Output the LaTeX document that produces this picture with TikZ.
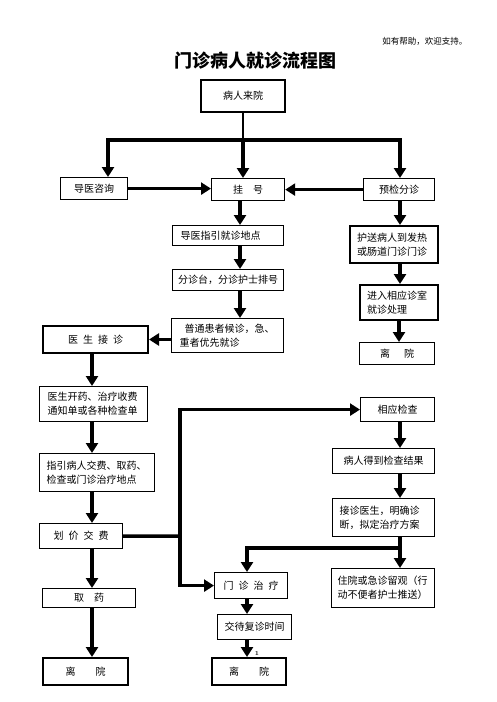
\documentclass[tikz,border=0pt]{standalone}
\usepackage{fontspec}
\newfontfamily\cjk{Noto Sans CJK SC}
\usetikzlibrary{arrows.meta}
\newcommand{\gap}{\hspace{0.5em}}

\begin{document}
\begin{tikzpicture}[x=1pt,y=-1pt,>={Triangle[width=12pt,length=10pt]},
  box/.style={draw,line width=1.2pt,anchor=north west,inner sep=0pt,
    font=\cjk\fontsize{10}{14}\selectfont,align=center},
  boldbox/.style={box,line width=2pt},
  leftbox/.style={align=left,inner xsep=7pt},
  flow/.style={->,line width=3.5pt},
  wire/.style={line width=3.5pt}]
  \useasboundingbox (0,0) rectangle (496,702);

  \node[font=\cjk\fontsize{8.5}{8.5}\selectfont,anchor=east] (note) at (471,41) {如有帮助，欢迎支持。};
  \node[font=\cjk\bfseries\fontsize{18}{18}\selectfont] (title) at (255,61) {门诊病人就诊流程图};

  \node[boldbox,minimum width=84,minimum height=32] (laiyuan) at (200,79) {病人来院};
  \node[box,minimum width=67,minimum height=22] (daoyi)    at (60,177)  {导医咨询};
  \node[box,minimum width=73,minimum height=22] (guahao)   at (211,178) {挂　号};
  \node[box,minimum width=71,minimum height=22] (yujian)   at (363,178) {预检分诊};
  \node[box,leftbox,inner xsep=8pt,text width=95,minimum height=20] (zhiyin) at (172,225) {导医指引就诊地点};
  \node[boldbox,leftbox,text width=74,minimum height=37] (husong) at (349,225) {护送病人到发热\\或肠道门诊门诊};
  \node[box,minimum width=111,minimum height=21] (fenzhen) at (172,269) {分诊台，分诊护士排号};
  \node[boldbox,leftbox,text width=64,minimum height=35] (jinru) at (359,284) {进入相应诊室\\就诊处理};
  \node[box,leftbox,inner xsep=8pt,text width=96,minimum height=34] (putong) at (171,318) {\hspace*{0.5em}普通患者候诊，急、\\重者优先就诊};
  \node[boldbox,minimum width=105,minimum height=27] (jiezhen) at (42,325) {医\gap 生\gap 接\gap 诊};
  \node[box,minimum width=75,minimum height=22] (likai_r)  at (359,342) {离\hspace{1.4em}院};
  \node[box,leftbox,inner xsep=8pt,text width=92,minimum height=35] (kaiyao) at (39,386) {医生开药、治疗收费\\通知单或各种检查单};
  \node[box,minimum width=74,minimum height=24] (jiancha)  at (360,397) {相应检查};
  \node[box,leftbox,text width=101,minimum height=38] (jiaofei) at (39,453) {指引病人交费、取药、\\检查或门诊治疗地点};
  \node[box,minimum width=102,minimum height=25] (jieguo)  at (332,448) {病人得到检查结果};
  \node[box,leftbox,text width=88,minimum height=38] (jiezhenys) at (332,498) {接诊医生，明确诊\\断，拟定治疗方案};
  \node[box,minimum width=83,minimum height=25] (huajia)   at (39,523)  {划\gap 价\gap 交\gap 费};
  \node[box,leftbox,inner xsep=6pt,text width=91,minimum height=39] (zhuyuan) at (331,568) {住院或急诊留观（行\\动不便者护士推送）};
  \node[box,minimum width=73,minimum height=26] (menzhen)  at (214,572) {门\gap 诊\gap 治\gap 疗};
  \node[box,minimum width=93,minimum height=19] (quyao)    at (42,588)  {取　药};
  \node[box,minimum width=74,minimum height=25] (jiaodai)  at (217,614) {交待复诊时间};
  \node[boldbox,minimum width=85,minimum height=27] (likai_l) at (42,657)  {离　　院};
  \node[boldbox,minimum width=74,minimum height=27] (likai_m) at (211,657) {离　　院};
  \node[font=\bfseries\fontsize{6}{6}\selectfont] (pagenum) at (257,654) {1};

  % columns and branch points
  \coordinate (lcol) at (92,0);
  \coordinate (mcol) at (240,0);
  \coordinate (ncol) at (247,0);
  \coordinate (rcol) at (400,0);
  \coordinate (fork) at (243,140);
  \coordinate (lfork) at (108,140);
  \coordinate (rfork) at (400,140);
  \coordinate (bus) at (180,536);
  \coordinate (split) at (400,548);

  \draw[line width=2pt] (laiyuan.south -| fork) -- (fork);
  \draw[flow] (fork) -| (lfork |- daoyi.north);
  \draw[flow] (fork) -| (rfork |- yujian.north);
  \draw[flow] (fork) -- (fork |- guahao.north);
  \draw[flow] (daoyi.east) -- (daoyi.east -| guahao.west);
  \draw[flow] (yujian.west) -- (yujian.west -| guahao.east);

  \draw[flow] (guahao.south -| mcol) -- (zhiyin.north -| mcol);
  \draw[flow] (zhiyin.south -| mcol) -- (fenzhen.north -| mcol);
  \draw[flow] (fenzhen.south -| mcol) -- (putong.north -| mcol);
  \draw[flow] (putong.west |- jiezhen.east) -- (jiezhen.east);

  \draw[flow] (yujian.south -| rcol) -- (husong.north -| rcol);
  \draw[flow] (husong.south -| rcol) -- (jinru.north -| rcol);
  \draw[flow] (jinru.south) -- (jinru.south |- likai_r.north);

  \draw[flow] (jiezhen.south -| lcol) -- (kaiyao.north -| lcol);
  \draw[flow] (kaiyao.south -| lcol) -- (jiaofei.north -| lcol);
  \draw[flow] (jiaofei.south -| lcol) -- (huajia.north -| lcol);
  \draw[flow] (huajia.south -| lcol) -- (quyao.north -| lcol);
  \draw[flow] (quyao.south -| lcol) -- (likai_l.north -| lcol);

  \draw[wire] (huajia.east) -- (bus);
  \draw[flow] (bus) |- (jiancha.west);
  \draw[flow] (bus) |- (menzhen.west);

  \draw[flow] (jiancha.south -| rcol) -- (jieguo.north -| rcol);
  \draw[flow] (jieguo.south -| rcol) -- (jiezhenys.north -| rcol);
  \draw[flow] (jiezhenys.south -| rcol) -- (zhuyuan.north -| rcol);
  \draw[flow] (split) -| (ncol |- menzhen.north);

  \draw[flow] (menzhen.south -| ncol) -- (jiaodai.north -| ncol);
  \draw[flow] (jiaodai.south -| ncol) -- (likai_m.north -| ncol);
\end{tikzpicture}
\end{document}
